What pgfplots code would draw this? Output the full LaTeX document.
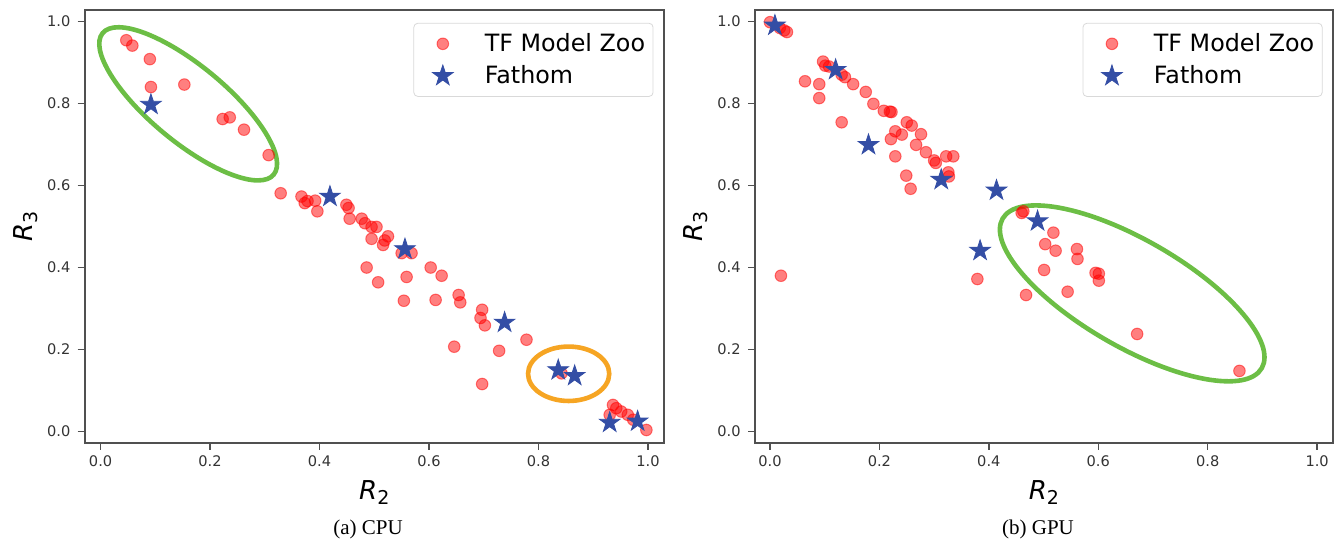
\documentclass[border=0pt]{standalone}
\usepackage{pgfplots}
\pgfplotsset{compat=1.18}
\usepackage{fontspec}
\setmainfont{DejaVu Sans}
\newfontfamily\capfont{Liberation Serif}

\definecolor{zoored}{rgb}{1,0,0}
\definecolor{fathom}{RGB}{52,78,165}
\definecolor{ringgreen}{RGB}{108,190,69}
\definecolor{ringorange}{RGB}{246,165,35}
\definecolor{spine}{RGB}{80,80,80}

% filled five-point star, like matplotlib's '*'
\pgfdeclareplotmark{fstar}{%
  \pgfpathmoveto{\pgfpointpolar{90}{1\pgfplotmarksize}}%
  \pgfpathlineto{\pgfpointpolar{126}{0.382\pgfplotmarksize}}%
  \pgfpathlineto{\pgfpointpolar{162}{1\pgfplotmarksize}}%
  \pgfpathlineto{\pgfpointpolar{198}{0.382\pgfplotmarksize}}%
  \pgfpathlineto{\pgfpointpolar{234}{1\pgfplotmarksize}}%
  \pgfpathlineto{\pgfpointpolar{270}{0.382\pgfplotmarksize}}%
  \pgfpathlineto{\pgfpointpolar{306}{1\pgfplotmarksize}}%
  \pgfpathlineto{\pgfpointpolar{342}{0.382\pgfplotmarksize}}%
  \pgfpathlineto{\pgfpointpolar{18}{1\pgfplotmarksize}}%
  \pgfpathlineto{\pgfpointpolar{54}{0.382\pgfplotmarksize}}%
  \pgfpathclose
  \pgfusepathqfillstroke}

\pgfplotsset{
  rpanel/.style={
    scale only axis,
    width=289.6pt, height=216.4pt,
    xmin=-0.029, xmax=1.029, ymin=-0.027, ymax=1.028,
    xtick={0,0.2,0.4,0.6,0.8,1}, ytick={0,0.2,0.4,0.6,0.8,1},
    tick align=outside, major tick length=3.5pt,
    xtick pos=bottom, ytick pos=left,
    axis line style={spine, line width=0.9pt},
    every tick/.style={spine, line width=0.7pt},
    /pgf/number format/fixed, /pgf/number format/fixed zerofill,
    /pgf/number format/precision=1,
    /pgf/number format/assume math mode=true,
    ticklabel style={font=\fontsize{7.3}{8}\selectfont, text=black!80, inner sep=0pt},
    xticklabel style={yshift=-2.7pt},
    yticklabel style={xshift=-3.5pt},
    xlabel style={at={(axis description cs:0.5,-0.1322)}, anchor=base, inner sep=0pt},
    ylabel style={at={(axis description cs:-0.102,0.5)}, anchor=center, inner sep=0pt},
    legend style={at={(0.982,0.970)}, anchor=north east, draw=black!15, rounded corners=2pt,
      fill=white, font=\fontsize{11.9}{13}\selectfont, inner xsep=2.5pt, inner ysep=3.5pt,
      nodes={inner sep=1.5pt}, row sep=2.5pt},
    legend cell align=left,
    legend image code/.code={%
      \path[draw=none, fill=none] (0pt,-4pt) rectangle (31.5pt,4pt);
      \draw[##1, mark repeat=1] plot coordinates {(12pt,0pt)};},
  },
  zoo/.style={only marks, mark=*, mark size=2.9pt,
    mark options={draw=zoored, fill=zoored, fill opacity=0.5, draw opacity=0.5, line width=0.5pt}},
  fat/.style={only marks, mark=fstar, mark size=5.4pt,
    mark options={draw=fathom, fill=fathom, line width=0.4pt}},
}

\newcommand{\Rlab}[1]{\fontsize{13}{15}\selectfont\textit{R}\raisebox{-0.35ex}{\fontsize{9.5}{10}\selectfont #1}}

\begin{document}
\begin{tikzpicture}
\useasboundingbox (0pt,0pt) rectangle (667.5pt,272.5pt);

% (a) CPU
\begin{axis}[rpanel, at={(42.35pt,51.15pt)}, anchor=south west,
  xlabel={\Rlab{2}}, ylabel={\Rlab{3}}]
  \draw[ringgreen, line width=2.3pt, shift={(axis cs:0.160,0.799)}, rotate=-39.6]
    (0pt,0pt) ellipse [x radius=55.5pt, y radius=19pt];
  \draw[ringorange, line width=2.3pt]
    (axis cs:0.855,0.141) ellipse [x radius=20.3pt, y radius=13.6pt];
  \addplot[zoo] table {
    x y
    0.047 0.954
    0.058 0.941
    0.090 0.908
    0.092 0.840
    0.153 0.846
    0.223 0.762
    0.236 0.766
    0.262 0.736
    0.307 0.674
    0.329 0.581
    0.367 0.573
    0.373 0.557
    0.378 0.562
    0.392 0.563
    0.396 0.537
    0.449 0.553
    0.453 0.545
    0.455 0.519
    0.477 0.519
    0.483 0.508
    0.495 0.499
    0.504 0.499
    0.495 0.470
    0.516 0.455
    0.519 0.466
    0.525 0.476
    0.550 0.435
    0.568 0.435
    0.486 0.400
    0.507 0.364
    0.559 0.377
    0.554 0.319
    0.603 0.400
    0.623 0.380
    0.612 0.321
    0.654 0.333
    0.657 0.315
    0.697 0.297
    0.694 0.277
    0.702 0.259
    0.778 0.224
    0.646 0.207
    0.728 0.197
    0.697 0.116
    0.842 0.142
    0.936 0.065
    0.942 0.057
    0.951 0.049
    0.963 0.041
    0.930 0.041
    0.973 0.029
    0.997 0.004
  };
  \addplot[fat] table {
    x y
    0.092 0.797
    0.419 0.573
    0.556 0.445
    0.738 0.266
    0.836 0.150
    0.866 0.136
    0.930 0.022
    0.981 0.025
  };
  \legend{TF Model Zoo, Fathom}
\end{axis}
\node[font=\capfont\fontsize{10.5}{12}\selectfont, anchor=base] at (184pt,5pt) {(a) CPU};

% (b) GPU
\begin{axis}[rpanel, at={(377.5pt,51.15pt)}, anchor=south west,
  width=289pt, xmin=-0.0274,
  xlabel={\Rlab{2}}, ylabel={\Rlab{3}}]
  \draw[ringgreen, line width=2.3pt, shift={(axis cs:0.662,0.337)}, rotate=-30]
    (0pt,0pt) ellipse [x radius=74.8pt, y radius=26.7pt];
  \addplot[zoo] table {
    x y
    0.000 0.998
    0.018 0.984
    0.026 0.978
    0.031 0.974
    0.097 0.902
    0.101 0.892
    0.108 0.890
    0.131 0.870
    0.137 0.864
    0.152 0.847
    0.064 0.854
    0.090 0.847
    0.090 0.813
    0.175 0.828
    0.189 0.799
    0.208 0.782
    0.219 0.780
    0.222 0.779
    0.131 0.754
    0.250 0.754
    0.259 0.746
    0.276 0.725
    0.229 0.732
    0.241 0.724
    0.221 0.713
    0.267 0.699
    0.285 0.681
    0.300 0.661
    0.303 0.655
    0.322 0.671
    0.335 0.671
    0.229 0.671
    0.326 0.632
    0.327 0.622
    0.249 0.624
    0.257 0.592
    0.460 0.533
    0.463 0.537
    0.518 0.485
    0.503 0.457
    0.522 0.441
    0.561 0.445
    0.562 0.421
    0.501 0.394
    0.595 0.387
    0.601 0.385
    0.601 0.368
    0.544 0.341
    0.468 0.333
    0.379 0.372
    0.671 0.238
    0.858 0.148
    0.020 0.380
  };
  \addplot[fat] table {
    x y
    0.009 0.990
    0.120 0.882
    0.180 0.699
    0.313 0.614
    0.414 0.588
    0.489 0.513
    0.384 0.441
  };
  \legend{TF Model Zoo, Fathom}
\end{axis}
\node[font=\capfont\fontsize{10.5}{12}\selectfont, anchor=base] at (519pt,5pt) {(b) GPU};
\end{tikzpicture}
\end{document}
